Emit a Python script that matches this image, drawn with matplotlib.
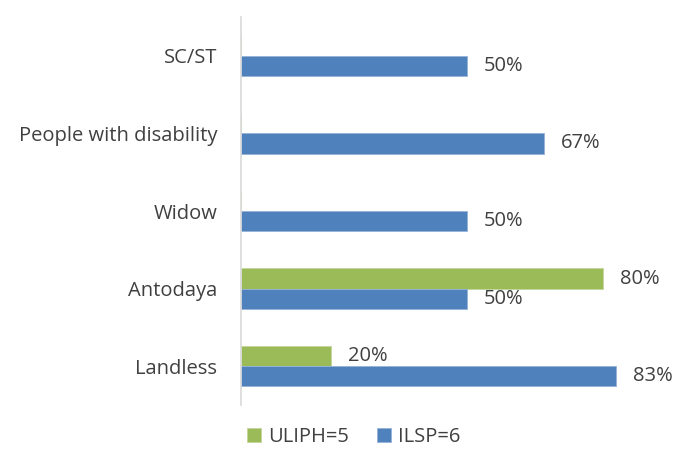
import numpy as np
import matplotlib
matplotlib.use('Agg')
from matplotlib import pyplot as plt

categories = ["SC/ST", "People with disability", "Widow", "Antodaya", "Landless"]
uliph = [0, 0, 0, 80, 20]
ilsp = [50, 67, 50, 50, 83]
series_names = ["ULIPH=5", "ILSP=6"]

green = "#9bbb59"
blue = "#4f81bd"

plt.rcParams['font.family'] = ['Open Sans', 'DejaVu Sans']

fig = plt.figure(figsize=(6.75, 4.53), dpi=100)
ax = fig.add_axes([241 / 675, 48 / 453, (670 - 241) / 675, 388 / 453])

y = np.arange(len(categories))
h = 0.26
bars_g = ax.barh(y - h / 2, uliph, height=h, color=green, edgecolor="#c3d69b",
                 linewidth=0.6, label=series_names[0])
bars_b = ax.barh(y + h / 2, ilsp, height=h, color=blue, edgecolor="#95b3d7",
                 linewidth=0.6, label=series_names[1])

# value labels, skip the empty bars
for bars, vals in [(bars_g, uliph), (bars_b, ilsp)]:
    for b, v in zip(bars, vals):
        if v == 0:
            continue
        ax.annotate(f"{v}%", (v, b.get_y() + b.get_height() / 2),
                    xytext=(17, 0), textcoords="offset pixels",
                    ha="left", va="center", fontsize=14.5, color="#404040")

ax.set_xlim(0, (670 - 241) / 4.52)
ax.set_ylim(len(categories) - 0.5, -0.5)
ax.set_yticks(y)
ax.set_yticklabels(categories, fontsize=14.5, color="#404040")
ax.tick_params(axis="y", length=0, pad=17)
ax.set_xticks([])
for s in ["top", "right", "bottom"]:
    ax.spines[s].set_visible(False)
ax.spines["left"].set_color("#d9d9d9")
ax.spines["left"].set_linewidth(1.2)

leg = fig.legend(handles=[bars_g, bars_b], labels=series_names, loc="center",
                 bbox_to_anchor=(354 / 675, 1 - 437 / 453), ncol=2, frameon=False,
                 fontsize=14.5, handlelength=0.7, handleheight=0.7,
                 columnspacing=1.4, handletextpad=0.35)
for t in leg.get_texts():
    t.set_color("#404040")

plt.savefig("out.png", dpi=100)
